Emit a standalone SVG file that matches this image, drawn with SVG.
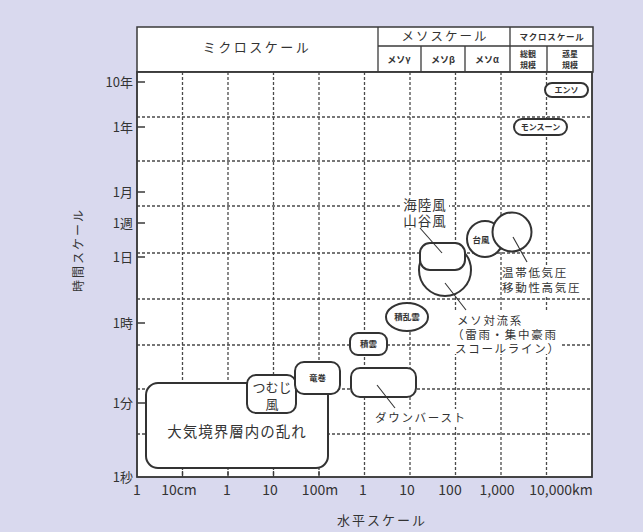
<svg xmlns="http://www.w3.org/2000/svg" width="643" height="532" viewBox="0 0 643 532">
<style>
text{font-family:"Noto Sans CJK JP","Noto Sans",sans-serif;fill:#333}
.frame{fill:#fff;stroke:#3a3a3a;stroke-width:1.5}
.hl{stroke:#3a3a3a;stroke-width:1.3}
.grid{stroke:#4a4a4a;stroke-width:1.3;stroke-dasharray:3 2;fill:none}
.tick{stroke:#3a3a3a;stroke-width:1.3}
.node{fill:#fff;stroke:#333;stroke-width:2}
.lead{stroke:#333;stroke-width:1.1}
.sm{font-size:8.5px;font-weight:bold;text-anchor:middle}
.lbl{font-size:11.5px;letter-spacing:1.7px}
.mask{fill:#fff}
.ax{font-size:13px;text-anchor:end}
.xl{font-size:14px;text-anchor:middle}
.hd{font-size:9px;text-anchor:middle;font-weight:bold}
</style>
<rect width="643" height="532" fill="#d9d9ee"/>
<g id="header">
<rect class="frame" x="137" y="27" width="456" height="45"/>
<line class="hl" x1="378" y1="27" x2="378" y2="72"/>
<line class="hl" x1="510" y1="27" x2="510" y2="72"/>
<line class="hl" x1="378" y1="46" x2="593" y2="46"/>
<line class="hl" x1="421" y1="46" x2="421" y2="72"/>
<line class="hl" x1="465" y1="46" x2="465" y2="72"/>
<line class="hl" x1="547" y1="46" x2="547" y2="72"/>
<text x="257" y="52" style="font-size:13px;letter-spacing:2.5px;text-anchor:middle">ミクロスケール</text>
<text x="445" y="41" style="font-size:12.5px;letter-spacing:2px;text-anchor:middle">メソスケール</text>
<text x="552" y="40" class="hd" style="font-size:8.5px;letter-spacing:0.8px">マクロスケール</text>
<text x="399" y="63" class="hd">メソγ</text>
<text x="443" y="63" class="hd">メソβ</text>
<text x="487" y="63" class="hd">メソα</text>
<text x="528" y="57" class="hd" style="font-size:8px">総観</text>
<text x="528" y="68" class="hd" style="font-size:8px">規模</text>
<text x="570" y="57" class="hd" style="font-size:8px">惑星</text>
<text x="570" y="68" class="hd" style="font-size:8px">規模</text>
</g>
<g id="plot">
<rect class="frame" x="137" y="72" width="455" height="405"/>
<g class="grid">
<path d="M182.5 72V477M228 72V477M273.5 72V477M319 72V477M364.5 72V477M410 72V477M455.5 72V477M501 72V477M546.5 72V477"/>
<path d="M137 117H592M137 161H592M137 206H592M137 253H592M137 299H592M137 345H592M137 389H592M137 434H592"/>
</g>
<rect x="137" y="72" width="455" height="405" fill="none" stroke="#3a3a3a" stroke-width="1.5"/>
<g class="tick">
<path d="M137 82H145M137 127H145M137 192H145M137 223H145M137 257H145M137 323H145M137 403H145"/>
<path d="M182.5 477V471M228 477V471M273.5 477V471M319 477V471"/>
</g>
</g>
<g id="axes-labels">
<text class="ax" x="133" y="87">10年</text>
<text class="ax" x="133" y="132">1年</text>
<text class="ax" x="133" y="197">1月</text>
<text class="ax" x="133" y="228">1週</text>
<text class="ax" x="133" y="262">1日</text>
<text class="ax" x="133" y="328">1時</text>
<text class="ax" x="133" y="408">1分</text>
<text class="ax" x="133" y="482">1秒</text>
<text class="xl" x="137" y="495">1</text>
<text class="xl" x="179" y="495">10cm</text>
<text class="xl" x="227" y="495">1</text>
<text class="xl" x="270" y="495">10</text>
<text class="xl" x="320" y="495">100m</text>
<text class="xl" x="363" y="495">1</text>
<text class="xl" x="407" y="495">10</text>
<text class="xl" x="450" y="495">100</text>
<text class="xl" x="497" y="495">1,000</text>
<text class="xl" x="561" y="495">10,000km</text>
<text x="382" y="525" style="font-size:13px;letter-spacing:2px;text-anchor:middle">水平スケール</text>
<text transform="translate(83,250) rotate(-90)" style="font-size:12px;letter-spacing:2px;text-anchor:middle">時間スケール</text>
</g>
<g id="node-boundary">
<rect class="node" x="146" y="383" width="182" height="85" rx="12"/>
<text x="237" y="437" style="font-size:14.5px;letter-spacing:1px;text-anchor:middle">大気境界層内の乱れ</text>
</g>
<g id="node-tsumuji">
<rect class="node" x="247" y="375" width="49" height="38" rx="9"/>
<text x="272" y="392" style="font-size:13px;text-anchor:middle">つむじ</text>
<text x="272" y="408.5" style="font-size:13px;text-anchor:middle">風</text>
</g>
<g id="node-tatsumaki">
<rect class="node" x="295" y="362" width="45" height="32" rx="9"/>
<text class="sm" x="317.5" y="381">竜巻</text>
</g>
<g id="node-downburst">
<rect class="node" x="351" y="368" width="65" height="29" rx="9"/>
</g>
<g id="node-sekiun">
<rect class="node" x="350" y="333" width="37" height="22" rx="8"/>
<text class="sm" x="368.5" y="347">積雲</text>
</g>
<g id="node-sekiranun">
<ellipse class="node" cx="407" cy="317" rx="21" ry="14"/>
<text class="sm" x="407" y="320">積乱雲</text>
</g>
<g id="node-meso">
<circle class="node" cx="445" cy="270" r="26"/>
</g>
<g id="node-kairiku">
<rect class="node" x="420" y="243" width="45" height="27" rx="10"/>
</g>
<g id="node-taifu">
<circle class="node" cx="485" cy="239" r="18"/>
<text class="sm" x="481" y="243">台風</text>
</g>
<g id="node-ontai">
<circle class="node" cx="512" cy="232" r="19.5"/>
</g>
<g id="node-monsoon">
<rect class="node" x="514" y="119" width="53" height="16" rx="8"/>
<text class="sm" x="540.5" y="130" style="font-size:8px">モンスーン</text>
</g>
<g id="node-enso">
<rect class="node" x="545" y="83" width="43" height="14" rx="7"/>
<text class="sm" x="566.5" y="93" style="font-size:8px">エンソ</text>
</g>
<g id="labels">
<rect class="mask" x="401" y="196" width="48" height="32"/>
<text x="425" y="210" style="font-size:13.5px;letter-spacing:1px;text-anchor:middle">海陸風</text>
<text x="425" y="226" style="font-size:13.5px;letter-spacing:1px;text-anchor:middle">山谷風</text>
<rect class="mask" x="502" y="265" width="84" height="31"/>
<text class="lbl" x="502" y="277">温帯低気圧</text>
<text class="lbl" x="502" y="292">移動性高気圧</text>
<rect class="mask" x="452" y="312" width="110" height="42"/>
<text class="lbl" x="457" y="325">メソ対流系</text>
<text class="lbl" x="452" y="339">（雷雨・集中豪雨</text>
<text class="lbl" x="455" y="353">スコールライン）</text>
<rect class="mask" x="373" y="409" width="99" height="17"/>
<text class="lbl" x="375" y="422">ダウンバースト</text>
</g>
<g id="connectors">
<line class="lead" x1="420" y1="228" x2="442" y2="253"/>
<line class="lead" x1="513" y1="237" x2="527" y2="262"/>
<line class="lead" x1="445" y1="283" x2="466" y2="310"/>
<line class="lead" x1="377" y1="385" x2="395" y2="408"/>
</g>
</svg>
